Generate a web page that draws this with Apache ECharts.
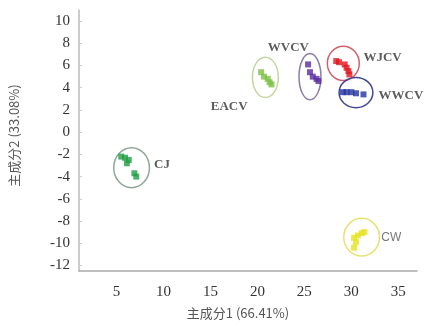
<!DOCTYPE html>
<html><head><meta charset="utf-8">
<script src="https://cdn.jsdelivr.net/npm/echarts@6/dist/echarts.min.js"></script>
<style>html,body{margin:0;padding:0;background:#fff}#c{width:425px;height:336px}</style>
</head><body><div id="c"></div>
<script>
// groups
var groups = ['EACV','WVCV','WJCV','WWCV','CJ','CW'];
var colors = ['#7cc144','#5a2aa0','#e0141e','#2232a0','#1f9e44','#e6e21e'];
var ringColors = ['#c4d6a0','#8c7ca8','#d2606c','#424a92','#8ea898','#e8e274'];
// points [PC1, PC2]
var EACV = [[20.4,5.4],[20.7,5.0],[21.1,4.8],[21.3,4.5],[21.5,4.3]];
var WVCV = [[25.4,6.1],[25.6,5.4],[25.9,5.0],[26.3,4.8],[26.5,4.6]];
var WJCV = [[28.4,6.4],[28.7,6.3],[29.3,6.1],[29.5,5.8],[29.7,5.5],[29.8,5.2]];
var WWCV = [[29.1,3.6],[29.5,3.6],[30.0,3.6],[30.5,3.5],[31.3,3.4]];
var CJ   = [[5.5,-2.2],[5.9,-2.3],[6.3,-2.5],[6.1,-2.8],[6.9,-3.7],[7.1,-4.0]];
var CW   = [[30.3,-9.5],[30.7,-9.3],[31.1,-9.1],[31.4,-9.0],[30.5,-9.9],[30.3,-10.4]];
// cluster ellipses [cx, cy, rx, ry] in data units
var ellipses = [[20.85,4.93,1.38,1.81],[25.6,5.0,1.17,2.08],[29.15,6.2,1.7,1.54],[30.5,3.57,1.8,1.36],[6.6,-3.2,1.9,1.8],[31.1,-9.46,1.9,1.7]];
// group label anchors [x, y] in data units
var labelAnchors = [[17.0,2.3],[23.3,7.6],[31.3,6.7],[32.9,3.3],[9.0,-2.9],[33.2,-9.5]];
var labelAlign = ['center','center','left','left','left','left'];
var xTicks = [5,10,15,20,25,30,35];
var yTicks = [-12,-10,-8,-6,-4,-2,0,2,4,6,8,10];
var xTitle = '主成分1 (66.41%)';
var yTitle = '主成分2 (33.08%)';

var pts = [EACV,WVCV,WJCV,WWCV,CJ,CW];
var chart = echarts.init(document.getElementById('c'));
var series = [];
series.push({
  type:'custom', silent:true, z:1,
  data: ellipses.map(function(e,i){return [e[0],e[1],e[2],e[3],i];}),
  renderItem: function(params, api){
    var c = api.coord([api.value(0), api.value(1)]);
    var s = api.size([api.value(2), api.value(3)]);
    var i = api.value(4);
    return {type:'ellipse', shape:{cx:c[0], cy:c[1], rx:s[0], ry:s[1]},
      style:{fill:null, stroke:ringColors[i], lineWidth:1.5}};
  }
});
pts.forEach(function(d,i){
  series.push({type:'scatter', name:groups[i], data:d, symbol:'rect', symbolSize:6, z:3,
    itemStyle:{color:colors[i]}});
});
series.push({
  type:'scatter', silent:true, symbolSize:0, z:4,
  data: labelAnchors.map(function(a,i){return {value:a, name:groups[i],
    label:{show:true, position:'inside', formatter:groups[i], align:labelAlign[i],
      color: i===5 ? '#555' : '#333',
      fontFamily: i===5 ? 'Liberation Sans' : 'Liberation Serif',
      fontWeight: i===5 ? 'normal' : 'bold', fontSize: i===5 ? 12 : 13}};})
});

function fmt(list){return function(v){return list.indexOf(Math.round(v*1000)/1000)>=0 ? String(v) : '';};}

chart.setOption({
  animation:false,
  grid:{left:78, right:8, top:10, bottom:65},
  xAxis:{type:'value', min:1, max:37, splitNumber:7,
    name:xTitle, nameLocation:'middle', nameGap:36,
    nameTextStyle:{fontFamily:'Noto Sans CJK SC', fontSize:13, color:'#555', padding:[0,20,0,0]},
    axisLine:{onZero:false, lineStyle:{color:'#aaa', width:1.5}},
    axisTick:{show:false},
    splitLine:{show:false},
    axisLabel:{formatter:fmt(xTicks), fontFamily:'Liberation Serif', fontSize:15, color:'#333', margin:14,
      showMinLabel:false, showMaxLabel:false}
  },
  yAxis:{type:'value', min:-12.5, max:11, splitNumber:12,
    name:yTitle, nameLocation:'middle', nameGap:58, nameRotate:90,
    nameTextStyle:{fontFamily:'Noto Sans CJK SC', fontSize:13, color:'#555', padding:[0,0,0,10]},
    axisLine:{show:true, onZero:false, lineStyle:{color:'#bbb', width:1.5}},
    axisTick:{show:true, inside:true, length:3, lineStyle:{color:'#ccc'}},
    splitLine:{show:false},
    axisLabel:{formatter:fmt(yTicks), fontFamily:'Liberation Serif', fontSize:15, color:'#333', margin:9,
      showMinLabel:false, showMaxLabel:false}
  },
  series:series
});
</script></body></html>
